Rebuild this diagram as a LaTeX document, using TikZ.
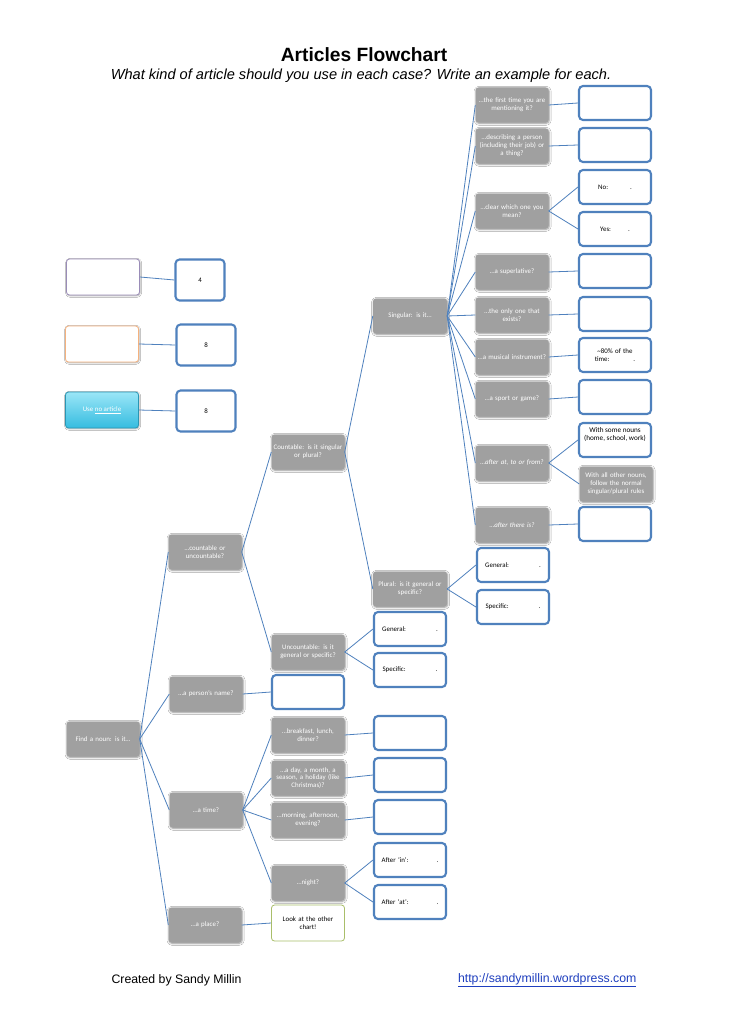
\documentclass[tikz,border=0pt]{standalone}
\usepackage{fontspec}
\setmainfont{Liberation Sans}
\newfontfamily\calfont{Carlito}
\usetikzlibrary{shadows.blur}
\definecolor{qgray}{HTML}{A0A0A0}
\definecolor{ablue}{HTML}{4F81BD}
\definecolor{lineblue}{HTML}{4F81BD}
\definecolor{lpurple}{HTML}{9A8CB8}
\definecolor{lorange}{HTML}{F5B27E}
\definecolor{cyantop}{HTML}{9BE6F7}
\definecolor{cyanbot}{HTML}{35BCE0}
\definecolor{lgreen}{HTML}{A9BE6A}
\definecolor{linkblue}{HTML}{1F3FBF}
\newcommand{\qfont}{\calfont\fontsize{6.9}{7.9}\selectfont}
\tikzset{
  qbox/.style={rectangle, rounded corners=3pt, fill=qgray, text=white,
    minimum width=72pt, minimum height=35pt, text width=72pt, align=center,
    inner sep=0.5pt, font=\qfont,
    blur shadow={shadow xshift=0.6pt, shadow yshift=-0.8pt, shadow blur radius=2pt, shadow opacity=45}},
  abox/.style={rectangle, rounded corners=4pt, draw=ablue, line width=2.1pt, fill=white,
    minimum width=72pt, minimum height=34pt, text width=68pt, align=center,
    inner sep=1pt, font=\qfont, text=black},
  lbox/.style={rectangle, rounded corners=4pt, draw=ablue, line width=2.1pt, fill=white,
    minimum width=49pt, minimum height=41pt, inner sep=1pt, font=\qfont, text=black},
  kbox/.style={rectangle, rounded corners=3pt, line width=0.8pt, fill=white,
    minimum width=73pt, minimum height=36pt, inner sep=1pt, font=\qfont,
    blur shadow={shadow xshift=0.6pt, shadow yshift=-0.8pt, shadow blur radius=1.5pt, shadow opacity=35}},
  conn/.style={draw=lineblue, line width=0.8pt},
}
\begin{document}
\begin{tikzpicture}[x=1pt,y=-1pt]
\path[use as bounding box, fill=white] (0,0) rectangle (728,1030);

% titles
\node[font=\bfseries\fontsize{19.2}{22}\selectfont] (title) at (364,55) {Articles Flowchart};
\node[font=\itshape\fontsize{14.6}{17}\selectfont] (subtitle) at (361,76) {What kind of article should you use in each case? Write an example for each.};
\node[font=\fontsize{12.3}{14}\selectfont, anchor=west] (credit) at (108,980) {Created by Sandy Millin};
\node[font=\fontsize{12.3}{14}\selectfont, anchor=east, text=linkblue] (url) at (640,980) {\underline{http://sandymillin.wordpress.com}};

% legend
\node[kbox, draw=lpurple] (kpurple) at (103,277) {};
\node[lbox] (k4) at (200,280) {4};
\node[kbox, draw=lorange] (korange) at (102,344) {};
\node[lbox, minimum width=59pt] (k8a) at (206,345) {8};
\node[kbox, draw=cyanbot!80!black, top color=cyantop, bottom color=cyanbot, text=white] (kcyan) at (102,410) {Use \underline{no article}};
\node[lbox, minimum width=59pt] (k8b) at (206,411) {8};
\draw[conn] (kpurple.east) -- (k4.west);
\draw[conn] (korange.east) -- (k8a.west);
\draw[conn] (kcyan.east) -- (k8b.west);

% right column questions
\node[qbox] (first) at (512,105) {…the first time you are\\mentioning it?};
\node[qbox] (descr) at (512,146) {…describing a person\\(including their job) or\\a thing?};
\node[qbox] (clear) at (512,211) {…clear which one you\\mean?};
\node[qbox] (super) at (512,272) {…a superlative?};
\node[qbox] (only) at (512,315) {…the only one that\\exists?};
\node[qbox] (music) at (512,357) {…a musical instrument?};
\node[qbox] (sport) at (512,399) {…a sport or game?};
\node[qbox] (afterat) at (512,463) {\itshape …after at, to or from?};
\node[qbox] (there) at (512,525) {\itshape …after there is?};

% right column answers
\node[abox] (afirst) at (615,103) {};
\node[abox] (adescr) at (615,145) {};
\node[abox] (ano) at (615,187) {No:\hspace{22pt}.};
\node[abox] (ayes) at (615,229) {Yes:\hspace{17pt}.};
\node[abox] (asuper) at (615,271) {};
\node[abox] (aonly) at (615,314) {};
\node[abox] (amusic) at (615,355) {\textasciitilde 80\% of the\\time:\hspace{24pt}.};
\node[abox] (asport) at (615,397) {};
\node[abox] (asome) at (615,440) {};
\node[font=\calfont\fontsize{7.2}{8.4}\selectfont, align=center, anchor=north, inner sep=0pt] (asometext) at (615,427) {With some nouns\\(home, school, work)};
\node[qbox] (aother) at (616,484) {With all other nouns,\\follow the normal\\singular/plural rules};
\node[abox] (athere) at (615,524) {};

% singular / plural
\node[qbox, minimum width=74pt] (sing) at (410,316) {Singular: is it…};
\node[qbox, minimum width=74pt] (plur) at (410,589) {Plural: is it general or\\specific?};
\node[abox] (pgen) at (513,565) {General:\hspace{30pt}.};
\node[abox] (pspec) at (513,607) {Specific:\hspace{30pt}.};

% countable level
\node[qbox, minimum width=73pt] (count) at (308,452) {Countable: is it singular\\or plural?};
\node[qbox, minimum width=73pt] (uncount) at (308,652) {Uncountable: is it\\general or specific?};
\node[abox] (ugen) at (410,629) {General:\hspace{30pt}.};
\node[abox] (uspec) at (410,670) {Specific:\hspace{30pt}.};

% second level
\node[qbox, minimum width=73pt] (cu) at (205,552) {…countable or\\uncountable?};
\node[qbox, minimum width=73pt] (pname) at (206,694) {…a person’s name?};
\node[abox] (apname) at (308,692) {};
\node[qbox, minimum width=73pt] (time) at (206,810) {…a time?};
\node[qbox, minimum width=73pt] (place) at (205,925) {…a place?};

% root
\node[qbox, minimum width=73pt] (root) at (103,739) {Find a noun: is it…};

% time children
\node[qbox, minimum width=73pt] (bfast) at (308,735) {…breakfast, lunch,\\dinner?};
\node[qbox, minimum width=73pt] (day) at (308,778) {…a day, a month, a\\season, a holiday (like\\Christmas)?};
\node[qbox, minimum width=73pt] (morning) at (308,820) {…morning, afternoon,\\evening?};
\node[qbox, minimum width=73pt] (night) at (308,883) {…night?};
\node[abox] (abfast) at (410,733) {};
\node[abox] (aday) at (410,775) {};
\node[abox] (amorning) at (410,817) {};
\node[abox] (ain) at (410,860) {After ‘in’:\hspace{28pt}.};
\node[abox] (aat) at (410,902) {After ‘at’:\hspace{28pt}.};
\node[rectangle, rounded corners=3pt, draw=lgreen, line width=0.8pt, fill=white,
  minimum width=73pt, minimum height=36pt, text width=72pt, align=center, inner sep=0.5pt,
  font=\qfont] (look) at (308,923) {Look at the other\\chart!};

% connectors
\foreach \c in {first,descr,clear,super,only,music,sport,afterat,there}
  \draw[conn] (sing.east) -- (\c.west);
\draw[conn] (first.east) -- (afirst.west);
\draw[conn] (descr.east) -- (adescr.west);
\draw[conn] (clear.east) -- (ano.west);
\draw[conn] (clear.east) -- (ayes.west);
\draw[conn] (super.east) -- (asuper.west);
\draw[conn] (only.east) -- (aonly.west);
\draw[conn] (music.east) -- (amusic.west);
\draw[conn] (sport.east) -- (asport.west);
\draw[conn] (afterat.east) -- (asome.west);
\draw[conn] (afterat.east) -- (aother.west);
\draw[conn] (there.east) -- (athere.west);
\draw[conn] (plur.east) -- (pgen.west);
\draw[conn] (plur.east) -- (pspec.west);
\draw[conn] (count.east) -- (sing.west);
\draw[conn] (count.east) -- (plur.west);
\draw[conn] (uncount.east) -- (ugen.west);
\draw[conn] (uncount.east) -- (uspec.west);
\draw[conn] (cu.east) -- (count.west);
\draw[conn] (cu.east) -- (uncount.west);
\draw[conn] (root.east) -- (cu.west);
\draw[conn] (root.east) -- (pname.west);
\draw[conn] (root.east) -- (time.west);
\draw[conn] (root.east) -- (place.west);
\draw[conn] (pname.east) -- (apname.west);
\draw[conn] (time.east) -- (bfast.west);
\draw[conn] (time.east) -- (day.west);
\draw[conn] (time.east) -- (morning.west);
\draw[conn] (time.east) -- (night.west);
\draw[conn] (bfast.east) -- (abfast.west);
\draw[conn] (day.east) -- (aday.west);
\draw[conn] (morning.east) -- (amorning.west);
\draw[conn] (night.east) -- (ain.west);
\draw[conn] (night.east) -- (aat.west);
\draw[conn] (place.east) -- (look.west);
\end{tikzpicture}
\end{document}
